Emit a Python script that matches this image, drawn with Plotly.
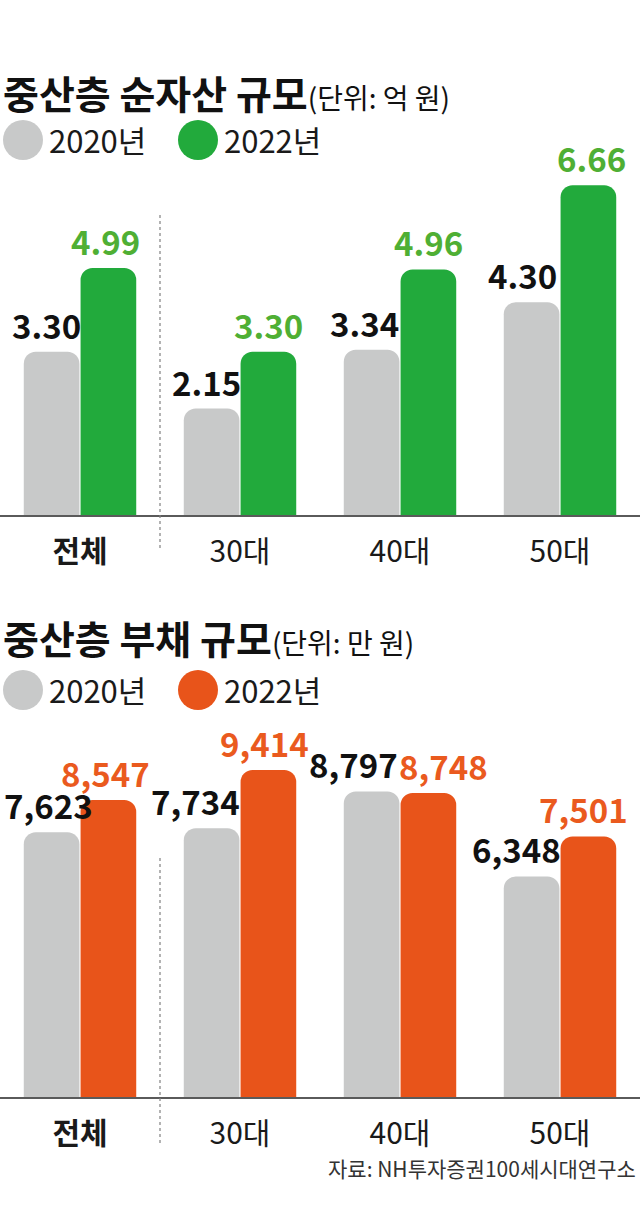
import plotly.graph_objects as go

categories = ["전체", "30대", "40대", "50대"]
years = ["2020년", "2022년"]
asset_2020 = [3.30, 2.15, 3.34, 4.30]
asset_2022 = [4.99, 3.30, 4.96, 6.66]
debt_2020 = [7623, 7734, 8797, 6348]
debt_2022 = [8547, 9414, 8748, 7501]

title1 = "중산층 순자산 규모"
unit1 = "(단위: 억 원)"
title2 = "중산층 부채 규모"
unit2 = "(단위: 만 원)"
source = "자료: NH투자증권100세시대연구소"

# small horizontal nudges (px) of the value labels, as placed in the original
asset_2020_nudge = [-5, -5, -7, -9]
asset_2022_nudge = [-3, 0, 0, 3]
debt_2020_nudge = [-3, -16, -18, -15]
debt_2022_nudge = [-3, -4, 15, -5]

GRAY = "#C8C9C9"
GREEN = "#22AA3C"
GREEN_TXT = "#4FAF34"
ORANGE = "#E8541A"
ORANGE_TXT = "#EA5A1E"
BLACK = "#111111"

W, H = 640, 1209
FONT = "Noto Sans CJK KR"
BARGAP = 0.29

def py(px):
    return 1 - px / H

xs = list(range(len(categories)))
ticktext = [f"<b>{c}</b>" if i == 0 else c for i, c in enumerate(categories)]

fig = go.Figure()

def bar(y, color, xa, ya, name):
    return go.Bar(
        x=xs, y=y, name=name, xaxis=xa, yaxis=ya,
        marker=dict(color=color, line=dict(width=0)),
        showlegend=False, hoverinfo="skip",
    )

fig.add_trace(bar(asset_2020, GRAY, "x", "y", years[0]))
fig.add_trace(bar(asset_2022, GREEN, "x", "y", years[1]))
fig.add_trace(bar(debt_2020, GRAY, "x2", "y2", years[0]))
fig.add_trace(bar(debt_2022, ORANGE, "x2", "y2", years[1]))

xaxis_common = dict(
    range=[-0.5, len(categories) - 0.5], tickmode="array", tickvals=xs, ticktext=ticktext,
    showline=True, linecolor="#5a5a5a", linewidth=2, showgrid=False, zeroline=False,
    ticks="", ticklabelstandoff=9,
    tickfont=dict(family=FONT, size=30, color="#1a1a1a"),
    fixedrange=True,
)

layout = dict(
    width=W, height=H, margin=dict(l=0, r=0, t=0, b=0),
    paper_bgcolor="white", plot_bgcolor="white",
    barmode="group", bargap=BARGAP, bargroupgap=0.02, barcornerradius=12,
    font=dict(family=FONT),
    xaxis=dict(domain=[0, 1], anchor="y", **xaxis_common),
    xaxis2=dict(domain=[0, 1], anchor="y2", **xaxis_common),
    yaxis=dict(domain=[py(515), py(150)], range=[0, 365 / 49.5], visible=False, fixedrange=True),
    yaxis2=dict(domain=[py(1097), py(740)], range=[0, 357 / 0.03474], visible=False, fixedrange=True),
)
fig.update_layout(**layout)

annotations = []
shapes = []

# value labels (annotations so they sit above neighbouring bars)
cat_px = W / len(categories)
half_bar = cat_px * (1 - BARGAP) / 4  # offset of each bar centre from category centre
for vals, col, fmt, xa, ya, side, nudge in [
    (asset_2020, BLACK, "{:.2f}", "x", "y", -1, asset_2020_nudge),
    (asset_2022, GREEN_TXT, "{:.2f}", "x", "y", 1, asset_2022_nudge),
    (debt_2020, BLACK, "{:,.0f}", "x2", "y2", -1, debt_2020_nudge),
    (debt_2022, ORANGE_TXT, "{:,.0f}", "x2", "y2", 1, debt_2022_nudge),
]:
    for i, v in enumerate(vals):
        annotations.append(dict(
            text=f"<b>{fmt.format(v)}</b>", x=xs[i], y=v, xref=xa, yref=ya,
            xanchor="center", yanchor="bottom", xshift=side * half_bar + nudge[i], yshift=1,
            showarrow=False, font=dict(family=FONT, size=33, color=col),
        ))

def header(title, unit, ty, ly, color2):
    annotations.append(dict(
        text=f"<b>{title}</b><span style='font-size:28px;font-weight:normal'>{unit}</span>",
        x=0, y=py(ty), xref="paper", yref="paper", xanchor="left", yanchor="middle",
        showarrow=False, font=dict(family=FONT, size=39, color=BLACK), xshift=1,
    ))
    for cx, col, lbl in [(23, GRAY, years[0]), (198, color2, years[1])]:
        shapes.append(dict(
            type="circle", xref="paper", yref="paper", xsizemode="pixel", ysizemode="pixel",
            xanchor=0, yanchor=py(ly), x0=cx - 20, x1=cx + 20, y0=-20, y1=20,
            fillcolor=col, line=dict(width=0),
        ))
        annotations.append(dict(
            text=lbl, x=0, y=py(ly), xref="paper", yref="paper", xanchor="left",
            yanchor="middle", xshift=cx + 24, showarrow=False,
            font=dict(family=FONT, size=31, color="#1a1a1a"),
        ))

header(title1, unit1, 92, 140, GREEN)
header(title2, unit2, 637, 690, ORANGE)

for xr, ytop, ybot in [("x", 215, 550), ("x2", 858, 1143)]:
    shapes.append(dict(
        type="line", xref=xr, yref="paper", x0=0.5, x1=0.5, y0=py(ytop), y1=py(ybot),
        line=dict(color="#808080", width=1.2, dash="dot"),
    ))

annotations.append(dict(
    text=source, x=1, y=py(1168), xref="paper", yref="paper", xanchor="right",
    yanchor="middle", showarrow=False, xshift=-2,
    font=dict(family=FONT, size=21, color="#333333"),
))

fig.update_layout(annotations=annotations, shapes=shapes)
fig.write_html("out.html", config={"displayModeBar": False})
